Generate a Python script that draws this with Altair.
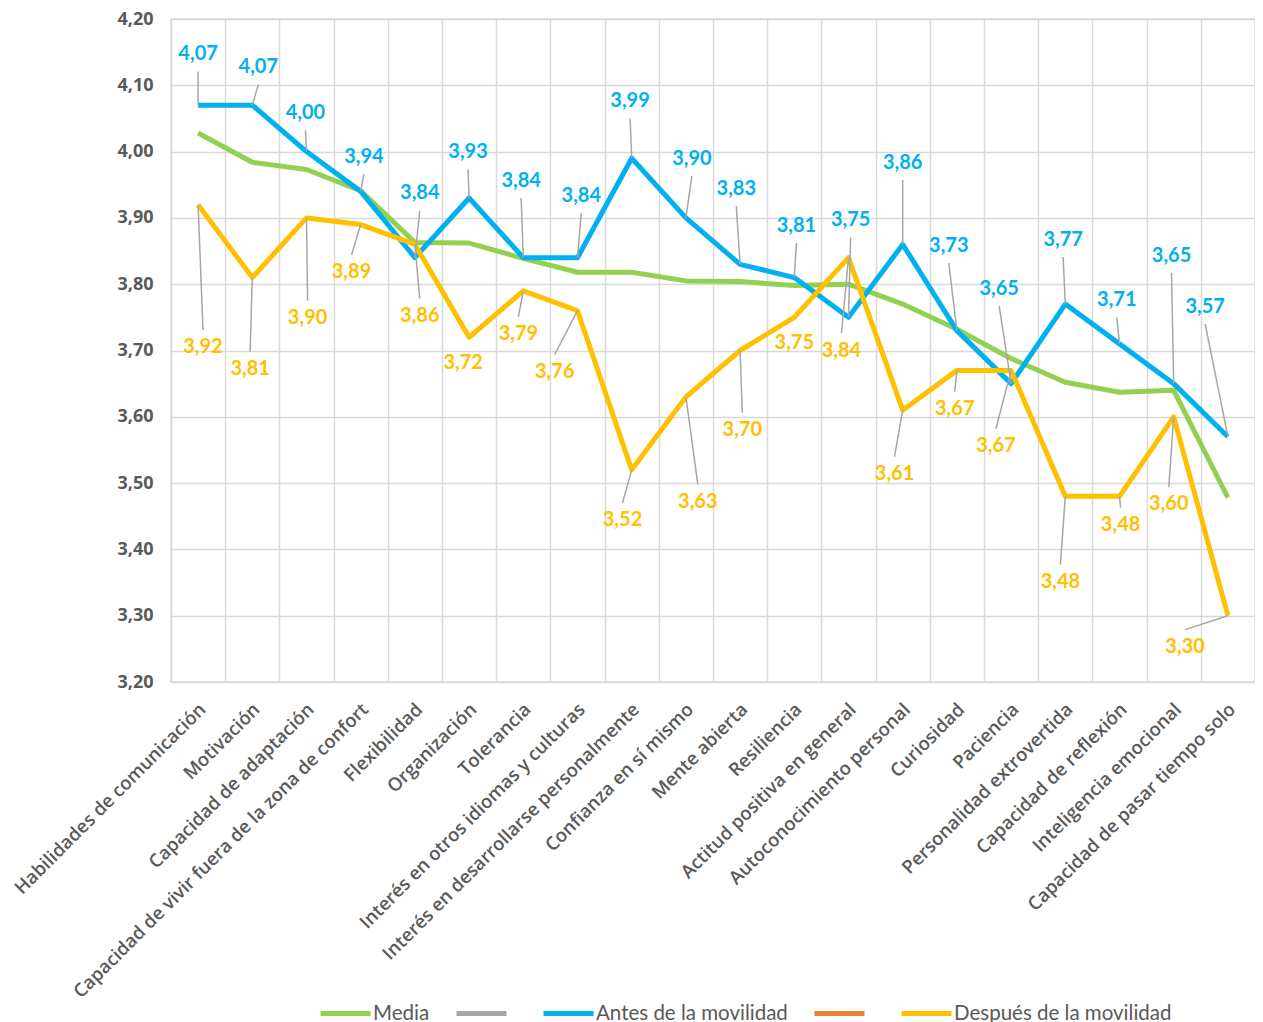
import json
import altair as alt
import pandas as pd

categorias = [
    "Habilidades de comunicación", "Motivación", "Capacidad de adaptación",
    "Capacidad de vivir fuera de la zona de confort", "Flexibilidad", "Organización",
    "Tolerancia", "Interés en otros idiomas y culturas",
    "Interés en desarrollarse personalmente", "Confianza en sí mismo", "Mente abierta",
    "Resiliencia", "Actitud positiva en general", "Autoconocimiento personal",
    "Curiosidad", "Paciencia", "Personalidad extrovertida", "Capacidad de reflexión",
    "Inteligencia emocional", "Capacidad de pasar tiempo solo",
]
media = [4.028, 3.984, 3.973, 3.941, 3.863, 3.862, 3.839, 3.818, 3.818, 3.805,
         3.804, 3.798, 3.800, 3.770, 3.732, 3.688, 3.652, 3.637, 3.640, 3.478]
antes = [4.07, 4.07, 4.00, 3.94, 3.84, 3.93, 3.84, 3.84, 3.99, 3.90,
         3.83, 3.81, 3.75, 3.86, 3.73, 3.65, 3.77, 3.71, 3.65, 3.57]
despues = [3.92, 3.81, 3.90, 3.89, 3.86, 3.72, 3.79, 3.76, 3.52, 3.63,
           3.70, 3.75, 3.84, 3.61, 3.67, 3.67, 3.48, 3.48, 3.60, 3.30]

# data-label placement (x shift in category units, y in value units)
antes_lbl_dx = [0, 0.11, -0.02, 0.06, 0.09, -0.02, -0.04, 0.07, -0.03, 0.11,
                -0.07, 0.04, 0.04, 0, -0.15, -0.22, -0.04, -0.05, -0.04, -0.42]
antes_lbl_y = [4.147, 4.127, 4.058, 3.992, 3.937, 3.999, 3.956, 3.933, 4.076, 3.989,
               3.944, 3.888, 3.897, 3.983, 3.858, 3.793, 3.867, 3.776, 3.843, 3.766]
despues_lbl_dx = [0.09, -0.04, 0.02, -0.17, 0.09, -0.11, -0.09, -0.42, -0.17, 0.22,
                  0.04, 0, -0.13, -0.15, -0.04, -0.28, -0.09, 0.02, -0.09, -0.79]
despues_lbl_y = [3.705, 3.672, 3.749, 3.818, 3.752, 3.681, 3.725, 3.668, 3.444, 3.472,
                 3.58, 3.711, 3.70, 3.514, 3.612, 3.556, 3.351, 3.437, 3.468, 3.253]

series = ["Media", "_gris", "Antes de la movilidad", "_naranja", "Después de la movilidad"]
colores = ["#92d050", "#a5a5a5", "#00b0f0", "#ed7d31", "#ffc000"]
y_ticks = [round(3.2 + 0.1 * k, 2) for k in range(11)]
x_edges = [k - 0.5 for k in range(len(categorias))]

rows = []
for i, v in enumerate(media):
    rows.append({"i": i, "v": v, "serie": "Media"})
for name, vals, dxs, lys in [("Antes de la movilidad", antes, antes_lbl_dx, antes_lbl_y),
                             ("Después de la movilidad", despues, despues_lbl_dx, despues_lbl_y)]:
    for i, v in enumerate(vals):
        rows.append({"i": i, "v": v, "serie": name, "lx": i + dxs[i], "ly": lys[i],
                     "txt": f"{v:.2f}".replace(".", ",")})
df = pd.DataFrame(rows)

cat_js = json.dumps(categorias, ensure_ascii=False)
x_scale = alt.Scale(domain=[-0.5, len(categorias) - 0.5], nice=False, zero=False)
y_scale = alt.Scale(domain=[3.2, 4.2], nice=False, zero=False)

x_axis = alt.Axis(
    values=x_edges, grid=True, gridColor="#d9d9d9", gridWidth=1.5, ticks=False, domain=False,
    labelAngle=315, labelAlign="right", labelBaseline="middle", labelOffset=31, labelPadding=24,
    labelExpr=f"{cat_js}[round(datum.value + 0.5)]",
    labelFont="Open Sans", labelFontSize=18.5, labelFontWeight=600, labelColor="#595959",
    labelOverlap=False, labelFlush=False, labelLimit=600, title=None,
)
y_axis = alt.Axis(
    values=y_ticks, grid=True, gridColor="#d9d9d9", gridWidth=1.5, ticks=False, domain=False,
    labelExpr="replace(format(datum.value, '.2f'), '.', ',')",
    labelFont="Open Sans", labelFontWeight="bold", labelFontSize=18, labelColor="#595959",
    labelPadding=18, title=None,
)

base = alt.Chart(df)

lines = base.mark_line(strokeWidth=5, strokeJoin="round").encode(
    x=alt.X("i:Q", scale=x_scale, axis=x_axis),
    y=alt.Y("v:Q", scale=y_scale, axis=y_axis),
    color=alt.Color(
        "serie:N",
        scale=alt.Scale(domain=series, range=colores),
        sort=series,
        legend=alt.Legend(
            orient="none", legendX=162, legendY=982, direction="horizontal", columns=5,
            title=None, symbolType="M-2.5,0H2.5", symbolStrokeWidth=5, symbolSize=400,
            labelFont="Lato", labelFontSize=20.5, labelColor="#595959", labelOffset=15,
            columnPadding=16, labelLimit=500,
            labelExpr="indexof(datum.label, '_') == 0 ? '' : datum.label",
        ),
    ),
)

leaders = base.transform_filter(
    "isValid(datum.ly) && abs(datum.ly - datum.v) > 0.04"
).transform_calculate(
    ye="datum.ly > datum.v ? datum.ly - 0.026 : datum.ly + 0.026"
).mark_rule(color="#a6a6a6", strokeWidth=1.5).encode(
    x="i:Q", y="v:Q", x2="lx:Q", y2="ye:Q"
)

def labels(name, color):
    return base.transform_filter(alt.datum.serie == name).mark_text(
        font="Lato", fontWeight="bold", fontSize=20, align="center", baseline="middle",
        color=color,
    ).encode(x="lx:Q", y="ly:Q", text="txt:N")

chart = alt.layer(
    lines, leaders,
    labels("Antes de la movilidad", "#00b0f0"),
    labels("Después de la movilidad", "#ffc000"),
).properties(
    width=1084, height=663,
    padding={"left": 3, "top": 2, "right": 0, "bottom": 0},
).configure_view(stroke="#d9d9d9", strokeWidth=1.5)

chart.save("out.html", embed_options={"renderer": "svg", "actions": False})
